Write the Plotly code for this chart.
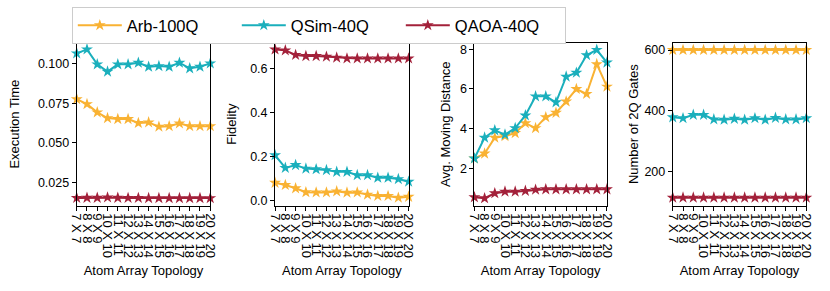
import plotly.graph_objects as go

topologies = [f"{n} X {n}" for n in range(7, 21)]

series_names = ["Arb-100Q", "QSim-40Q", "QAOA-40Q"]
colors = ["#F9B233", "#1AAFBC", "#A3213A"]

exec_arb = [0.0775, 0.0744, 0.0692, 0.0656, 0.0650, 0.0650, 0.0625, 0.0629, 0.0602, 0.0605, 0.0623, 0.0605, 0.0605, 0.0605]
exec_qsim = [0.1063, 0.1088, 0.0994, 0.0948, 0.0994, 0.0994, 0.1004, 0.0979, 0.0983, 0.0979, 0.1004, 0.0969, 0.0979, 0.1000]
exec_qaoa = [0.0154, 0.0155, 0.0155, 0.0157, 0.0155, 0.0154, 0.0154, 0.0153, 0.0153, 0.0153, 0.0153, 0.0153, 0.0153, 0.0153]

fid_arb = [0.080, 0.070, 0.055, 0.037, 0.036, 0.036, 0.041, 0.035, 0.036, 0.026, 0.020, 0.020, 0.012, 0.016]
fid_qsim = [0.206, 0.148, 0.161, 0.145, 0.142, 0.138, 0.130, 0.130, 0.115, 0.115, 0.103, 0.103, 0.097, 0.085]
fid_qaoa = [0.689, 0.685, 0.664, 0.659, 0.659, 0.656, 0.652, 0.648, 0.648, 0.648, 0.648, 0.648, 0.648, 0.648]

dist_arb = [2.50, 2.75, 3.55, 3.63, 3.78, 4.28, 4.03, 4.58, 4.80, 5.37, 6.00, 5.75, 7.25, 6.12]
dist_qsim = [2.50, 3.55, 3.92, 3.70, 4.03, 4.67, 5.63, 5.63, 5.33, 6.62, 6.82, 7.70, 7.97, 7.33]
dist_qaoa = [0.55, 0.50, 0.75, 0.83, 0.83, 0.87, 0.93, 0.95, 0.95, 0.95, 0.95, 0.95, 0.95, 0.95]

gates_arb = [600] * 14
gates_qsim = [379, 376, 387, 387, 372, 371, 374, 371, 376, 371, 377, 372, 372, 376]
gates_qaoa = [115] * 14

panels = [
    ("Execution Time", [exec_arb, exec_qsim, exec_qaoa], [0.0106, 0.113], [0.025, 0.05, 0.075, 0.1], ".3f"),
    ("Fidelity", [fid_arb, fid_qsim, fid_qaoa], [-0.024, 0.72], [0.0, 0.2, 0.4, 0.6], ".1f"),
    ("Avg. Moving Distance", [dist_arb, dist_qsim, dist_qaoa], [0.13, 8.33], [2, 4, 6, 8], "d"),
    ("Number of 2Q Gates", [gates_arb, gates_qsim, gates_qaoa], [89, 624], [200, 400, 600], "d"),
]

W, H = 830, 291
x_px = [(71, 207), (273, 409), (476, 611), (678, 814)]
y_dom = [1 - 207 / H, 1 - 43 / H]
y_standoff = [15, 10, 6, 2]

FONT = "Liberation Sans, Arial, sans-serif"
fig = go.Figure()
layout = {}
for i, (title, data, yr, yt, fmt) in enumerate(panels):
    ax = "" if i == 0 else str(i + 1)
    for j, vals in enumerate(data):
        fig.add_trace(go.Scatter(
            x=topologies, y=vals, mode="lines+markers",
            name=series_names[j], showlegend=(i == 0),
            line=dict(color=colors[j], width=2),
            marker=dict(symbol="star", size=9, color=colors[j]),
            xaxis="x" + ax, yaxis="y" + ax, cliponaxis=False,
        ))
    layout["xaxis" + ax] = dict(
        domain=[x_px[i][0] / W, x_px[i][1] / W], anchor="y" + ax,
        type="category", range=[0, 13], tickangle=90,
        tickmode="array", tickvals=topologies, ticktext=topologies,
        ticks="outside", ticklen=4, tickcolor="black",
        showline=True, linecolor="black", linewidth=1, mirror=True,
        showgrid=False, zeroline=False,
        tickfont=dict(size=13, color="black", family=FONT),
        title=dict(text="Atom Array Topology", font=dict(size=13, color="black", family=FONT), standoff=8),
    )
    layout["yaxis" + ax] = dict(
        domain=y_dom, anchor="x" + ax, range=yr,
        tickvals=yt, tickformat=fmt,
        ticks="outside", ticklen=4, tickcolor="black",
        showline=True, linecolor="black", linewidth=1, mirror=True,
        showgrid=False, zeroline=False,
        tickfont=dict(size=12.5, color="black", family=FONT),
        title=dict(text=title, font=dict(size=13, color="black", family=FONT), standoff=y_standoff[i]),
    )

fig.update_layout(
    width=W, height=H,
    margin=dict(l=0, r=0, t=0, b=0),
    paper_bgcolor="white", plot_bgcolor="white",
    font=dict(family=FONT, color="black"),
    legend=dict(
        orientation="h", x=66 / W, y=1 - 7 / H, xanchor="left", yanchor="top",
        bordercolor="#CCCCCC", borderwidth=1, bgcolor="white",
        font=dict(size=16.5, color="black", family=FONT),
        entrywidth=105, entrywidthmode="pixels", itemwidth=44,
    ),
    **layout,
)

fig.write_html("out.html", config={"displayModeBar": False},
               post_script="document.body.style.margin='0';")
